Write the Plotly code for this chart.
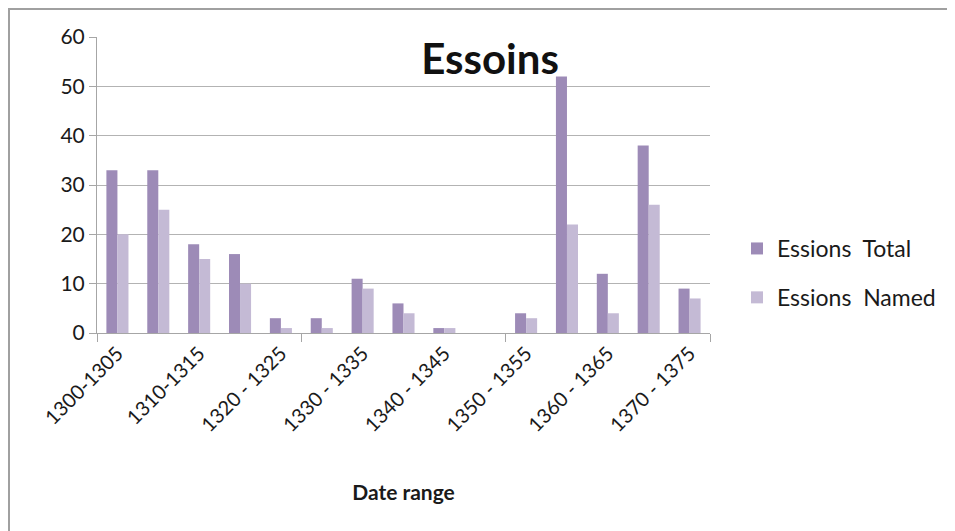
import plotly.graph_objects as go

categories = ["1300-1305", "1305 - 1310", "1310-1315", "1315 - 1320", "1320 - 1325",
              "1325 - 1330", "1330 - 1335", "1335 - 1340", "1340 - 1345", "1345 - 1350",
              "1350 - 1355", "1355 - 1360", "1360 - 1365", "1365 - 1370", "1370 - 1375"]
essions_total = [33, 33, 18, 16, 3, 3, 11, 6, 1, 0, 4, 52, 12, 38, 9]
essions_named = [20, 25, 15, 10, 1, 1, 9, 4, 1, 0, 3, 22, 4, 26, 7]
shown_labels = categories[::2]

FONT = "Lato"
W, H = 955, 531
L, T = 89, 29
PR, PB = 702, 325
R, B = W - PR, H - PB
pw, ph = PR - L, PB - T

fig = go.Figure()
fig.add_trace(go.Bar(x=categories, y=essions_total, name="Essions  Total",
                     marker=dict(color="#9d8bb7", line=dict(width=0)), legendgroup="a"))
fig.add_trace(go.Bar(x=categories, y=essions_named, name="Essions  Named",
                     marker=dict(color="#c4bad5", line=dict(width=0)), legendgroup="b"))
# invisible helper trace for the category-boundary tick marks
fig.add_trace(go.Scatter(x=[-0.5, 14.5], y=[0, 0], xaxis="x2", mode="markers",
                         marker=dict(opacity=0), showlegend=False, hoverinfo="skip"))

fig.update_layout(
    width=W, height=H,
    margin=dict(l=L, r=R, t=T, b=B),
    paper_bgcolor="white", plot_bgcolor="white",
    font=dict(family=FONT, size=20, color="#1a1a1a"),
    barmode="group", bargap=0.46, bargroupgap=0,
    title=dict(text="<b>Essoins</b>", font=dict(family=FONT, size=42, color="#111111"),
               x=482 / W, xanchor="center", y=1 - 51 / H, yanchor="middle"),
    legend=dict(x=(729 - L) / pw, xanchor="left", y=(PB - 265) / ph, yanchor="middle",
                traceorder="grouped", tracegroupgap=16,
                font=dict(family=FONT, size=23, color="#1a1a1a"), bgcolor="rgba(0,0,0,0)"),
    xaxis=dict(type="category", categoryorder="array", categoryarray=categories,
               range=[-0.5, 14.5], tickmode="array", tickvals=shown_labels, ticktext=shown_labels,
               tickangle=-45, ticks="", showgrid=False, showline=True, linecolor="#a6a6a6",
               linewidth=1, zeroline=False,
               title=dict(text="<b>Date range</b>", font=dict(family=FONT, size=21), standoff=50)),
    xaxis2=dict(overlaying="x", range=[-0.5, 14.5], tickmode="array",
                tickvals=[-0.5, 4.5, 9.5, 14.5], ticks="outside", ticklen=8,
                tickcolor="#a6a6a6", showticklabels=False, showgrid=False,
                showline=False, zeroline=False, side="bottom", anchor="y"),
    yaxis=dict(range=[0, 60], dtick=10, tick0=0, showgrid=True, gridcolor="#b3b3b3",
               gridwidth=1, showline=True, linecolor="#a6a6a6", linewidth=1,
               ticks="outside", ticklen=7, tickcolor="#a6a6a6", zeroline=False,
               tickfont=dict(family=FONT, size=21)),
    shapes=[dict(type="path", xref="paper", yref="paper",
                 path=f"M {(1 - L) / pw} {-(H - T + 20) / ph} L {(1 - L) / pw} {1 + (T - 1) / ph} L {(W + 20 - L) / pw} {1 + (T - 1) / ph}",
                 line=dict(color="#a0a0a0", width=2))],
)

fig.write_html("out.html")
